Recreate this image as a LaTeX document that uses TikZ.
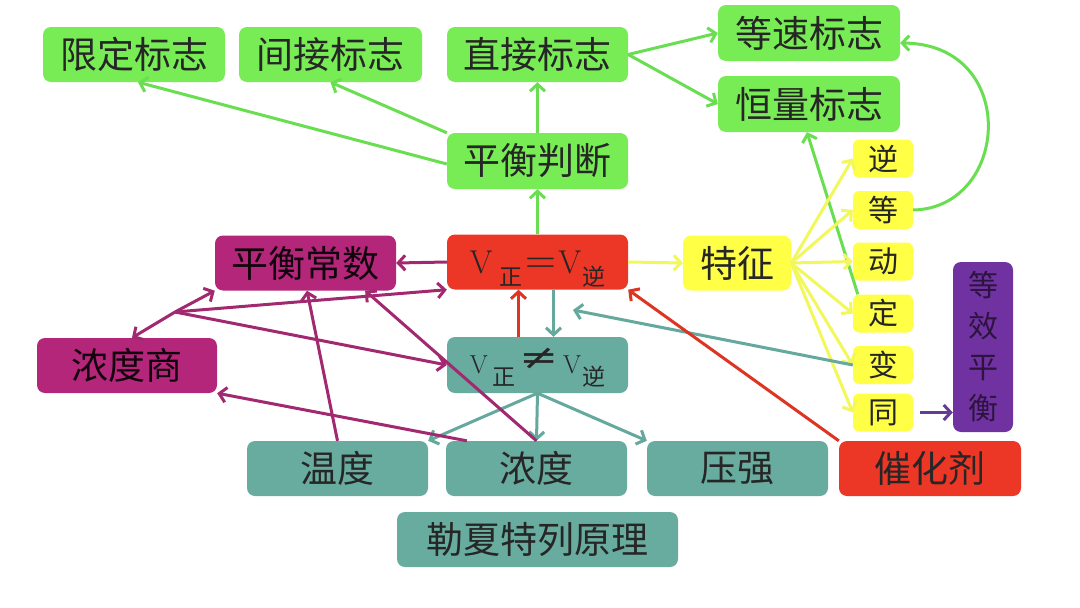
\documentclass[tikz,border=0pt]{standalone}
\usepackage{fontspec}
\usepackage{graphicx}
\newfontfamily\cjk{Noto Sans CJK SC}
\newfontfamily\djv{DejaVu Serif}
\usetikzlibrary{arrows.meta,calc}
\definecolor{gfill}{RGB}{120,236,84}
\definecolor{gline}{RGB}{104,222,80}
\definecolor{yfill}{RGB}{255,255,70}
\definecolor{yline}{RGB}{242,248,92}
\definecolor{rfill}{RGB}{236,54,38}
\definecolor{rline}{RGB}{222,52,34}
\definecolor{mfill}{RGB}{180,38,122}
\definecolor{mline}{RGB}{162,40,112}
\definecolor{tfill}{RGB}{104,172,160}
\definecolor{tline}{RGB}{100,168,158}
\definecolor{pfill}{RGB}{112,50,160}
\definecolor{pline}{RGB}{100,60,150}
\newcommand\vsubA[1]{\raisebox{-12pt}{\cjk\fontsize{23}{24}\selectfont #1}}
\tikzset{
  box/.style={rounded corners=8pt, inner sep=0pt, text=black!85,
    font=\cjk\fontsize{37}{40}\selectfont},
  sz/.style 2 args={minimum width=#1pt, minimum height=#2pt},
  gbox/.style={box, fill=gfill},
  ybox/.style={box, fill=yfill},
  sbox/.style={box, fill=yfill, rounded corners=6pt, sz={60}{38},
    font=\cjk\fontsize{30}{32}\selectfont},
  rbox/.style={box, fill=rfill},
  mbox/.style={box, fill=mfill, text=black!90!mfill},
  tbox/.style={box, fill=tfill},
  pbox/.style={box, fill=pfill, text=black!60!pfill},
  conn/.style={line width=3pt, -{Straight Barb[length=7pt,width=15pt]}},
}
\begin{document}
\begin{tikzpicture}[x=1pt,y=-1pt]
\useasboundingbox[fill=white] (0,0) rectangle (1080,608);
% green boxes
\node[gbox, sz={182}{55}] (xd) at (134,54.5) {限定标志};
\node[gbox, sz={183}{55}] (jj) at (330.5,54.5) {间接标志};
\node[gbox, sz={181}{55}] (zj) at (537.5,54.5) {直接标志};
\node[gbox, sz={182}{56}] (ds) at (809,33) {等速标志};
\node[gbox, sz={182}{56}] (hl) at (809,104) {恒量标志};
\node[gbox, sz={181}{56}] (pd) at (537.5,161) {平衡判断};
% row 2
\node[mbox, sz={181}{55}] (cs) at (305.5,263) {平衡常数};
\node[rbox, sz={181}{55}, text height=24pt, text depth=2pt] (veq) at (537.5,262)
  {\rmfamily\fontsize{33}{36}\selectfont V\hspace{7pt}\vsubA{正}\hspace{3pt}\scalebox{1.3}{=}\hspace{2pt}V\hspace{1pt}\vsubA{逆}};
\node[ybox, sz={108}{55}] (tz) at (737,263) {特征};
% small yellow boxes
\node[sbox] (ni)   at (883,158.5) {逆};
\node[sbox] (deng) at (883,210) {等};
\node[sbox] (dong) at (883,261.5) {动};
\node[sbox] (ding) at (883,313.5) {定};
\node[sbox] (bian) at (883,365) {变};
\node[sbox] (tong) at (883,412.5) {同};
\node[pbox, sz={60}{170}, align=center, font=\cjk\fontsize{30}{41}\selectfont] (dx) at (983,347) {等\\效\\平\\衡};
% row 3
\node[mbox, sz={180}{55}] (nds) at (127,365.5) {浓度商};
\node[tbox, sz={181}{56}, text height=20pt, text depth=4pt] (vne) at (537.5,365)
  {\rmfamily\fontsize{26}{30}\selectfont V\hspace{5pt}\vsubA{正}\hspace{4pt}\raisebox{4pt}{\scalebox{1.8}[1.35]{\djv ≠}}\hspace{4pt}V\hspace{1pt}\vsubA{逆}};
% row 4
\node[tbox, sz={181}{55}] (wd) at (337.5,468.5) {温度};
\node[tbox, sz={181}{55}] (nd) at (536.5,468.5) {浓度};
\node[tbox, sz={181}{55}] (yq) at (737.5,468.5) {压强};
\node[rbox, sz={182}{55}] (chj) at (930,468.5) {催化剂};
\node[tbox, sz={281}{55}] (lx) at (537.5,539.5) {勒夏特列原理};
% free ends
\coordinate (hub) at (175,312);
\coordinate (tt) at (573,310);
% green connectors
\draw[conn, gline] (pd.north) -- (zj.south);
\draw[conn, gline] (veq.north) -- (pd.south);
\draw[conn, gline] ([yshift=-3pt]pd.west) -- ([xshift=4pt]xd.south);
\draw[conn, gline] (pd.north west) -- (jj.south);
\draw[conn, gline] (zj.east) -- (ds.west);
\draw[conn, gline] (zj.east) -- (hl.west);
\draw[conn, gline] ([xshift=5pt]ding.north west) -- ([xshift=-2pt]hl.south);
\draw[conn, gline] (deng.east) .. controls (1010,208) and (1020,44) .. ([yshift=-10pt]ds.east);
% yellow connectors
\draw[conn, yline] (veq.east) -- (tz.west);
\foreach \n in {ni,deng,dong,ding,bian,tong}
  \draw[conn, yline] (tz.east) -- (\n.west);
% teal / red vertical pair
\draw[conn, tline] ($(veq.south)+(16,0)$) -- ($(vne.north)+(16,0)$);
\draw[conn, rline] ($(vne.north)+(-19,0)$) -- ($(veq.south)+(-19,0)$);
\draw[conn, tline] (bian.west) -- (tt);
\draw[conn, tline] (vne.south) -- (wd.north east);
\draw[conn, tline] (vne.south) -- (nd.north);
\draw[conn, tline] (vne.south) -- (yq.north west);
% red catalyst
\draw[conn, rline] (chj.north west) -- (veq.south east);
% purple
\draw[conn, pline, shorten <=7pt] (tong.east) -- (tong.east -| dx.west);
% magenta
\draw[conn, mline] (veq.west) -- (cs.east);
\draw[conn, mline] (hub) -- ($(nds.north)+(5,0)$);
\draw[conn, mline] (hub) -- (cs.south west);
\draw[conn, mline] (hub) -- (veq.south west);
\draw[conn, mline] (hub) -- (vne.west);
\draw[conn, mline] (wd.north) -- ($(cs.south)+(1.5,0)$);
\draw[conn, mline] ($(nd.north west)+(21,0)$) -- (nds.south east);
\draw[conn, mline] (nd.north) -- ($(cs.south east)+(-31,0)$);
\end{tikzpicture}
\end{document}
